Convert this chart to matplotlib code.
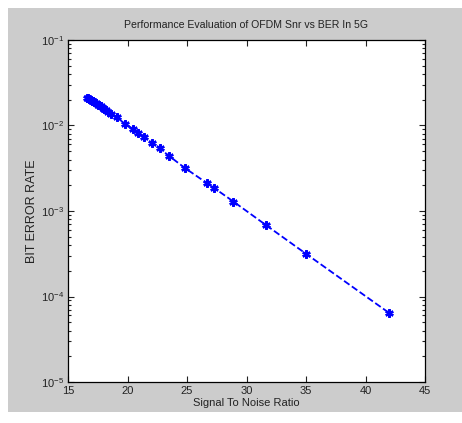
import matplotlib
matplotlib.use("Agg")
import matplotlib.pyplot as plt
from matplotlib.patches import Rectangle
from matplotlib.ticker import LogLocator, FixedLocator, NullFormatter

snr = [16.6, 16.7, 16.8, 16.9, 17.0, 17.1, 17.2, 17.35, 17.5, 17.6, 17.75,
       17.9, 18.05, 18.2, 18.4, 18.6, 19.1, 19.8, 20.5, 20.9, 21.4, 22.1,
       22.7, 23.5, 24.8, 26.65, 27.3, 28.9, 31.6, 35.0, 42.0]
ber = [0.0212, 0.0208, 0.0204, 0.0200, 0.0196, 0.0192, 0.0188, 0.0182,
       0.0176, 0.0172, 0.0167, 0.0161, 0.0156, 0.0151, 0.0144, 0.0138,
       0.0125, 0.0104, 0.0090, 0.0081, 0.0073, 0.0062, 0.0054, 0.0044,
       0.0032, 0.00213, 0.00185, 0.00129, 0.00069, 0.000316, 0.000064]
xticks = [15, 20, 25, 30, 35, 40, 45]

plt.rcParams["font.family"] = ["Liberation Sans", "DejaVu Sans"]
plt.rcParams["mathtext.fontset"] = "custom"
plt.rcParams["mathtext.rm"] = "Liberation Sans"
plt.rcParams["mathtext.it"] = "Liberation Sans"
plt.rcParams["mathtext.default"] = "regular"

fig = plt.figure(figsize=(4.62, 4.23), dpi=100, facecolor="white")
fig.patches.append(Rectangle((8 / 462, 11 / 423), 454 / 462, 404 / 423,
                             transform=fig.transFigure, facecolor="#cccccc",
                             edgecolor="none", zorder=-1))

ax = fig.add_axes([68 / 462, 1 - 382 / 423, 357 / 462, 342 / 423])
ax.plot(snr, ber, "--", color="blue", marker=(6, 2, 0), markersize=6,
        linewidth=1.3, markeredgewidth=1.7)
ax.set_yscale("log")
ax.set_xlim(15, 45)
ax.set_ylim(1e-5, 1e-1)
ax.xaxis.set_major_locator(FixedLocator(xticks))
ax.yaxis.set_major_locator(LogLocator(base=10, numticks=10))
ax.yaxis.set_minor_locator(LogLocator(base=10, subs=range(2, 10), numticks=10))
ax.yaxis.set_minor_formatter(NullFormatter())

ax.tick_params(which="both", direction="in", top=True, right=True,
               labelsize=8, pad=3, width=0.8, colors="#222222")
ax.tick_params(which="major", length=4)
ax.tick_params(which="minor", length=2.5)
for s in ax.spines.values():
    s.set_linewidth(0.9)

ax.set_title("Performance Evaluation of OFDM Snr vs BER In 5G", fontsize=7.6,
             pad=9, color="#222222")
ax.set_xlabel("Signal To Noise Ratio", fontsize=8, labelpad=1, color="#222222")
ax.set_ylabel("BIT ERROR RATE", fontsize=9, labelpad=2, color="#222222")

fig.savefig("out.png", dpi=100, facecolor=fig.get_facecolor())
